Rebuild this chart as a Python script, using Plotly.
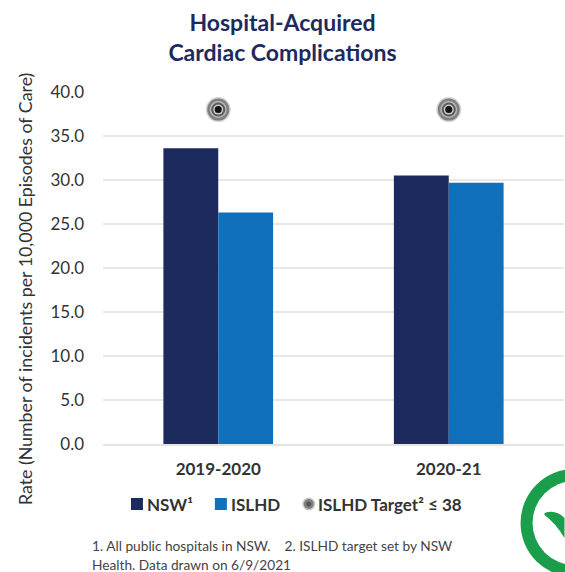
import plotly.graph_objects as go

categories = ["2019-2020", "2020-21"]
nsw = [33.6, 30.5]
islhd = [26.3, 29.7]
target = [38, 38]
y_ticks = [0, 5, 10, 15, 20, 25, 30, 35, 40]
W, H = 565, 572
L, R, T, B = 103, 0.5, 92, 128
FONT = "Lato"
NAVY, BLUE, GREEN = "#1d2a5e", "#1170bb", "#1a9e4b"

def px(x):
    return (x - L) / (W - L - R)
def py(y):
    return 1 - (y - T) / (H - T - B)

fig = go.Figure()
fig.add_bar(x=categories, y=nsw, name="NSW¹", marker=dict(color=NAVY, line_width=0))
fig.add_bar(x=categories, y=islhd, name="ISLHD", marker=dict(color=BLUE, line_width=0))
rings = [(25, "#d4d4d4"), (22, "#808080"), (17, "#b5b5b5"), (14, "#5a5a5a"), (10, "#c8c8c8"), (7, "#111111")]
for s, c in rings:
    fig.add_scatter(x=categories, y=target, mode="markers", name="ISLHD Target² ≤ 38",
                    marker=dict(size=s, color=c, line_width=0), hoverinfo="skip")

fig.update_layout(
    width=W, height=H, autosize=False, paper_bgcolor="white", plot_bgcolor="white",
    margin=dict(l=L, r=R, t=T, b=B), barmode="group", bargap=0.524, bargroupgap=0,
    font=dict(family=FONT, color="#333333"), showlegend=False,
    title=dict(text="<b>Hospital-Acquired<br>Cardiac Complications</b>", x=0.5, xanchor="center",
               y=0.945, yanchor="top", font=dict(size=23, color=NAVY, family=FONT)),
)
fig.update_xaxes(showline=True, linecolor="#e4e4e4", linewidth=2, ticks="",
                 tickfont=dict(size=17, color="#333333"), ticklabelstandoff=9,
                 tickprefix="<b>", ticksuffix="</b>")
fig.update_yaxes(range=[0, 40], tickvals=y_ticks, tickformat=".1f", gridcolor="#e8e8e8", gridwidth=2,
                 zeroline=False, showline=False, tickfont=dict(size=17, color="#333333"), ticks="",
                 ticklabelstandoff=18)

def note(x, y, text, size, color="#333333", anchor="left", angle=0):
    fig.add_annotation(xref="paper", yref="paper", x=px(x), y=py(y), xanchor=anchor, yanchor="middle",
                       align="left", showarrow=False, text=text, textangle=angle,
                       font=dict(size=size, color=color, family=FONT), borderpad=0)

note(25, 289, "Rate (Number of incidents per 10,000 Episodes of Care)", 17.8, anchor="center", angle=-90)
note(91, 545, "1. All public hospitals in NSW.    2. ISLHD target set by NSW", 13.7, "#444444")
note(91, 564, "Health. Data drawn on 6/9/2021", 13.7, "#444444")

# legend row
legend_y = 504
for x0, col, lab, tx in [(131, NAVY, "NSW¹", 146), (215, BLUE, "ISLHD", 230)]:
    fig.add_shape(type="rect", xref="paper", yref="paper", x0=px(x0), x1=px(x0 + 12),
                  y0=py(legend_y + 6), y1=py(legend_y - 6), fillcolor=col, line_width=0)
    note(tx, legend_y, f"<b>{lab}</b>", 17)
for r, col in [(6.5, "#c8c8c8"), (5, "#808080"), (2.5, "#555555")]:
    fig.add_shape(type="circle", xref="paper", yref="paper", x0=px(309 - r), x1=px(309 + r),
                  y0=py(legend_y + r), y1=py(legend_y - r), fillcolor=col, line_width=0)
note(317, legend_y, "<b>ISLHD Target² ≤ 38</b>", 17)

# green logo ring
cx, cy, ro, ri = 575, 523, 54, 42
for r, col in [(ro, GREEN), (ri, "white")]:
    fig.add_shape(type="circle", xref="paper", yref="paper", x0=px(cx - r), x1=px(cx + r),
                  y0=py(cy + r), y1=py(cy - r), fillcolor=col, line_width=0, layer="above")
fig.add_shape(type="path", xref="paper", yref="paper", fillcolor=GREEN, line_width=0, layer="above",
              path=f"M {px(545)} {py(513)} Q {px(556)} {py(509)} {px(565)} {py(518)} L {px(565)} {py(538)} Q {px(556)} {py(523)} {px(545)} {py(515)} Z")
fig.write_html("out.html", config={"displayModeBar": False},
               post_script="document.body.style.margin='0';document.body.style.overflow='hidden';")
